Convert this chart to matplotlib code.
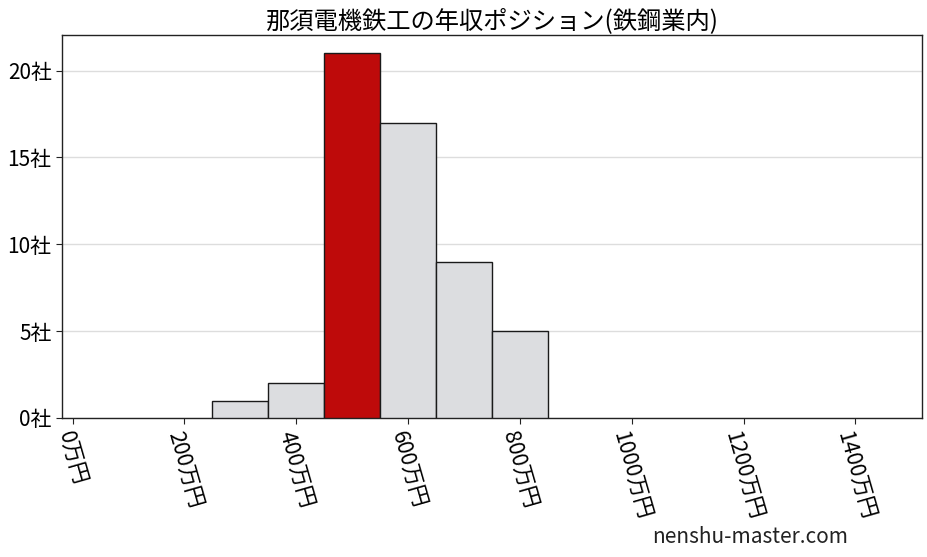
import matplotlib
matplotlib.use("Agg")
import matplotlib.pyplot as plt

plt.rcParams['font.family'] = ['Noto Sans CJK JP', 'DejaVu Sans']

title = "那須電機鉄工の年収ポジション(鉄鋼業内)"
bin_centers = [300, 400, 500, 600, 700, 800]
counts = [1, 2, 21, 17, 9, 5]
highlight_bin = 500
xticks = [0, 200, 400, 600, 800, 1000, 1200, 1400]
xtick_labels = [f"{v}万円" for v in xticks]
yticks = [0, 5, 10, 15, 20]
ytick_labels = [f"{v}社" for v in yticks]
watermark = "nenshu-master.com"

fig = plt.figure(figsize=(9.28, 5.57), dpi=100)
ax = fig.add_axes([62/928, 1-418/557, (922-62)/928, (418-35)/557])

colors = ['#be0a0a' if c == highlight_bin else '#dcdde0' for c in bin_centers]
ax.bar(bin_centers, counts, width=100, color=colors, edgecolor='#1a1a1a', linewidth=1.0, zorder=3)

ax.set_xlim(-19, 1519)
ax.set_ylim(0, 22.05)
ax.set_yticks(yticks)
ax.set_yticklabels(ytick_labels, fontsize=15)
ax.set_xticks(xticks)
ax.set_xticklabels(xtick_labels, fontsize=15.5, rotation=-74, ha='center', va='top', rotation_mode='default')
ax.grid(axis='y', color='#dddddd', linewidth=1, zorder=0)
ax.set_axisbelow(True)
for s in ax.spines.values():
    s.set_color('#222222')
    s.set_linewidth(1.0)
ax.tick_params(axis='both', length=4, color='#222222')

ax.set_title(title, fontsize=17.5, pad=5)
fig.text(848/928, 1-537/557, watermark, fontsize=15, ha='right', va='center', color='#222222')

fig.savefig("out.png", dpi=100)
